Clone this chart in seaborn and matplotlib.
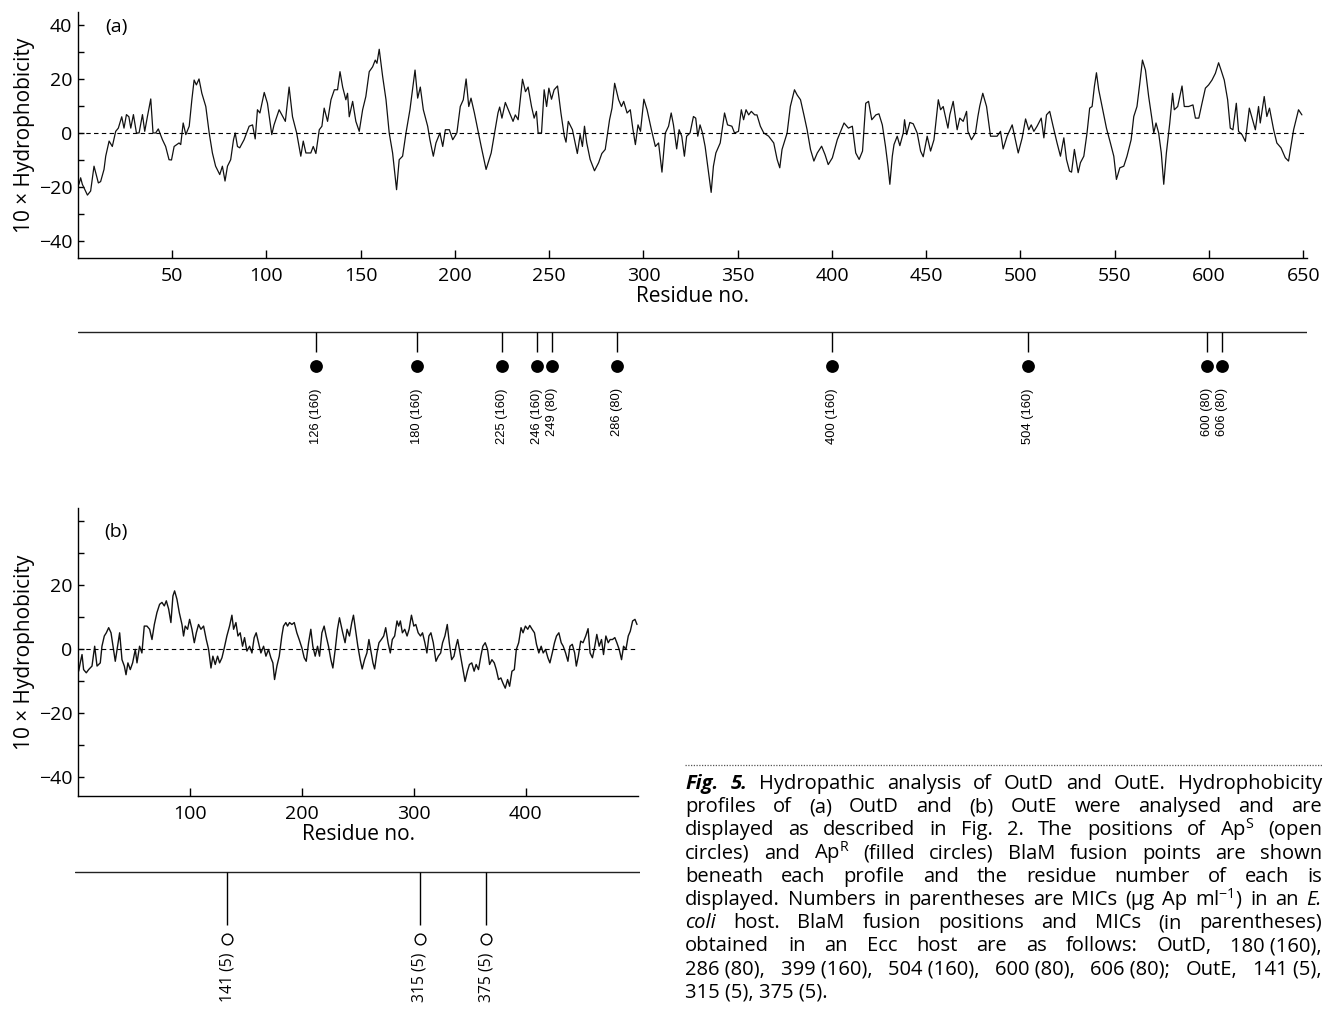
import matplotlib
matplotlib.use("Agg")
import matplotlib.pyplot as plt
from matplotlib.lines import Line2D
import seaborn as sns

# Fig. 5 - hydropathy profiles of OutD (a) and OutE (b)

# (a) OutD: residue no., 10 x hydrophobicity
outd_res = [
    0.5, 1.4, 2.3, 5.0, 6.7, 8.5, 10.8, 12.0, 13.8, 14.7, 16.5, 18.2, 20.0, 21.4, 23.2, 24.4,
    25.7, 27.0, 28.0, 29.4, 31.0, 32.4, 34.2, 35.4, 36.8, 38.6, 39.8, 41.2, 42.6, 44.8, 46.5,
    48.3, 49.6, 51.0, 53.6, 54.5, 55.8, 57.2, 59.0, 60.4, 61.6, 62.8, 64.2, 65.7, 67.8, 69.6,
    71.3, 73.0, 75.2, 76.6, 78.0, 79.3, 81.0, 82.5, 83.4, 84.6, 85.8, 88.1, 90.8, 92.6, 94.0,
    95.2, 96.5, 98.8, 100.5, 102.8, 104.0, 106.7, 110.0, 112.0, 113.8, 116.0, 117.3, 118.2,
    119.5, 120.9, 123.5, 124.8, 126.2, 128.0, 129.4, 130.6, 132.4, 134.2, 136.0, 137.7, 139.0,
    140.4, 142.1, 143.0, 143.9, 145.7, 147.4, 149.2, 151.0, 152.7, 154.5, 156.3, 157.7, 158.6,
    159.8, 161.6, 163.4, 165.1, 166.9, 169.0, 170.4, 172.2, 174.0, 176.1, 178.8, 180.2, 181.6,
    183.2, 185.5, 186.7, 188.5, 189.9, 192.0, 193.5, 194.9, 197.0, 198.8, 201.0, 202.8, 204.4,
    205.9, 207.3, 208.5, 210.3, 212.1, 213.9, 216.5, 219.2, 221.0, 222.8, 223.7, 224.9, 226.7,
    229.0, 230.8, 232.0, 233.5, 235.8, 237.4, 238.8, 240.6, 242.0, 243.2, 244.1, 245.9, 247.3,
    248.6, 249.8, 251.2, 252.6, 254.4, 256.2, 258.0, 258.9, 260.1, 262.3, 264.9, 266.4, 267.6,
    268.7, 269.9, 271.7, 274.0, 276.2, 277.9, 279.7, 282.0, 283.3, 284.7, 286.8, 288.3, 289.5,
    291.3, 293.0, 294.3, 295.7, 297.1, 298.4, 300.2, 301.9, 304.2, 306.3, 308.0, 309.8, 311.6,
    313.3, 314.7, 315.9, 317.6, 318.9, 320.3, 321.7, 322.9, 324.7, 326.5, 327.7, 328.8, 330.0,
    331.3, 332.7, 334.5, 335.9, 337.1, 338.4, 340.7, 343.0, 344.6, 346.9, 348.3, 350.4, 351.9,
    353.1, 354.4, 355.8, 357.2, 359.0, 360.2, 362.0, 363.8, 366.4, 369.1, 370.9, 372.3, 373.5,
    376.2, 377.9, 380.1, 381.5, 383.3, 385.1, 386.8, 388.6, 390.4, 392.2, 394.5, 396.3, 398.0,
    400.2, 402.8, 406.4, 408.7, 410.8, 412.6, 414.4, 416.2, 417.9, 419.4, 421.1, 423.3, 424.9,
    426.7, 428.4, 429.7, 430.7, 432.0, 432.9, 434.6, 436.0, 437.8, 438.5, 439.6, 441.3, 443.1,
    445.2, 447.0, 448.4, 450.5, 452.3, 454.1, 454.9, 456.4, 457.6, 459.0, 461.5, 462.5, 464.3,
    466.4, 467.8, 469.6, 471.4, 472.1, 474.0, 476.1, 477.4, 478.4, 480.0, 482.0, 484.1, 487.6,
    489.4, 490.8, 492.9, 495.6, 498.8, 500.9, 502.7, 504.4, 505.7, 507.1, 508.8, 511.0, 512.4,
    513.8, 515.5, 517.3, 519.4, 521.2, 523.0, 524.4, 526.0, 527.1, 528.6, 530.6, 531.8, 533.6,
    535.3, 536.7, 538.0, 539.2, 540.3, 541.5, 543.3, 545.6, 547.7, 549.5, 550.9, 552.7, 554.8,
    556.5, 558.7, 560.1, 561.8, 563.3, 564.7, 566.3, 568.0, 569.8, 570.7, 571.9, 573.3, 574.7,
    576.0, 577.4, 579.2, 580.7, 581.6, 583.4, 584.5, 585.7, 586.9, 589.2, 591.5, 592.8, 594.6,
    596.3, 598.1, 599.8, 601.6, 603.4, 605.1, 606.4, 608.1, 609.9, 611.3, 612.7, 614.5, 615.7,
    617.5, 619.3, 621.4, 623.1, 624.6, 626.3, 627.2, 629.3, 630.7, 632.1, 634.3, 636.0, 638.2,
    640.5, 642.2, 644.9, 647.5, 649.3,
]
outd_h = [
    -19, -16.6, -19, -23, -21.5, -12.3, -18.5, -18, -13.5, -8.6, -3, -5, 0.6, 1.8, 6, 1.8,
    6.8, 6, 1.8, 6.8, 0, 0, 6.8, 0.6, 6, 12.6, 0, 0, 1.5, -2.5, -5,
    -9.9, -10, -5, -3.7, -4.3, 3.7, -0.6, 2.5, 12.3, 19.6, 17.8, 20, 14.7, 9.8, 0,
    -7.4, -12.3, -15.4, -12.3, -17.8, -12.3, -9.9, -2.5, 0, -5, -5.5, -2.5, 2.5, 3, -2.2,
    8.6, 7.4, 15, 11, -0.6, 3, 8.6, 4.3, 17, 6, 0, -5, -8.6,
    -3, -7.4, -7.4, -5, -7.6, 1.2, 2.5, 9.2, 4.3, 12.3, 16, 16, 22.7,
    17, 12.3, 14.7, 6, 11.7, 4.3, 0.6, 8.6, 13.5, 22.7, 24.5, 27, 25.8,
    31, 21, 12.3, 0, -7.4, -21, -9.9, -8.6, 0, 8.6, 23.3, 12.9, 17,
    8.6, 2.5, -2.5, -8.6, -3.7, 0, -5, 1.2, 1.2, -2.5, 0, 9.8, 12.3,
    20, 9.8, 12.9, 7.4, 1.2, -5, -13.5, -7.4, 0, 7.4, 9.6, 5.5, 11.3,
    7.4, 4.3, 6.7, 4.9, 19.9, 15.3, 17, 9.8, 5.5, 8, 0, 0, 16,
    9.8, 16.6, 12.5, 16, 17.4, 7.4, -1.2, -3.4, 4.3, 1.2, -7.6, -0.6, -5,
    2.5, -3.7, -9.8, -14, -11, -7.6, -6.1, 4.9, 9.2, 18.4, 12.3, 9.8, 11.7,
    7.4, 8.6, 1.8, -4.3, 3, 0.6, 12.5, 8.6, 1.2, -5, -3.7, -14.5, 0,
    2.5, 7.4, 3, -5.9, 1.2, -1.2, -8.6, -1.2, 0, 6.1, 5.5, -1.2, 3,
    0, -5, -14.7, -22, -12.3, -7.4, -3.7, 7.4, 3, 2.5, 0, 0.6, 8.6,
    4.9, 8.6, 6.7, 8, 6.7, 6.7, 2.5, 0, -1.2, -3.7, -9.8, -12.9, -6.1,
    0, 9.8, 16, 14.1, 12.3, 6.7, 1.2, -6.1, -10.4, -7.4, -4.9, -8, -11.7,
    -9.2, -2.5, 3.7, 1.8, 2.5, -7.4, -9.8, -6.7, 11, 11.7, 4.9, 6.7, 7.1,
    3, -5, -12.3, -19, -8.6, -4.3, -1.2, -4.7, 0, 4.9, -0.6, 3.9, 3.4,
    0, -6.7, -8.8, -1.2, -6.7, -2.5, 2.5, 12.3, 8.6, 9.8, 1.8, 6.7, 11.7,
    1.2, 5.5, 4.3, 8, 0.6, -2.5, 0, 6.1, 10, 14.7, 9.8, -1.2, -1.2,
    0.6, -5.9, -1.2, 3, -7.4, -1.8, 5.2, 1.2, 3, 0.6, 2.5, 5.5, -1.8,
    6.7, 8, 2.5, -3.7, -8.6, -1.8, -9.8, -14.1, -14.5, -6.1, -14.7, -11, -8.6,
    0, 9.2, 9.8, 17.2, 22.3, 16, 9.8, 1.8, -3.7, -8.6, -17.2, -12.9, -12.3,
    -8.6, -2.5, 6.1, 9.8, 18.4, 27, 23.3, 13.5, 4.9, 0, 3.7, 0, -7.4,
    -19, -7.4, 3.7, 14.7, 8.6, 9.8, 13.5, 17.4, 9.8, 9.8, 10.4, 5.5, 5.5,
    11, 16.6, 17.8, 19.6, 22.1, 26, 23.3, 19.6, 12.3, 1.8, 1.2, 11, 0.6,
    -0.6, -3.1, 9.2, 4.9, 1.2, 9.8, 3.7, 13.5, 6.1, 9.2, 1.2, -3.7, -5.5,
    -9.2, -10.4, 1.2, 8.6, 6.7,
]

# (b) OutE
oute_res = [
    0.6, 2.0, 3.6, 5.0, 7.4, 9.5, 12.5, 14.9, 17.0, 19.9, 21.4, 23.5, 25.3, 27.4, 29.5, 31.3,
    33.3, 35.4, 37.2, 39.3, 41.4, 42.9, 44.6, 46.7, 48.8, 51.2, 52.7, 55.0, 57.1, 59.2, 61.6,
    64.0, 66.1, 68.2, 70.5, 72.9, 75.0, 77.1, 78.9, 81.0, 83.0, 84.8, 86.3, 88.4, 90.5, 92.9,
    94.3, 95.8, 97.9, 99.7, 101.8, 103.9, 105.7, 107.7, 109.8, 112.2, 114.6, 116.7, 118.8,
    120.5, 122.6, 124.7, 126.5, 128.6, 130.7, 133.0, 135.4, 137.5, 139.0, 141.1, 142.9, 144.9,
    147.0, 148.8, 150.9, 153.3, 155.4, 157.4, 159.2, 161.3, 163.4, 165.8, 167.9, 170.2, 172.3,
    174.1, 175.6, 177.7, 179.8, 182.1, 183.6, 185.7, 187.2, 189.0, 191.1, 193.2, 195.5, 197.6,
    200.0, 202.1, 203.9, 206.0, 208.0, 209.8, 211.9, 214.0, 215.8, 217.9, 219.9, 221.7, 223.8,
    225.9, 227.7, 229.8, 231.8, 233.6, 236.5, 238.6, 240.4, 242.5, 244.6, 246.1, 247.9, 250.0,
    252.1, 253.9, 256.0, 258.1, 259.9, 262.0, 263.5, 265.0, 267.1, 268.9, 271.0, 273.1, 274.9,
    277.0, 279.0, 280.8, 282.9, 285.0, 286.5, 288.0, 289.8, 291.9, 294.0, 295.8, 297.9, 300.0,
    301.8, 303.9, 306.0, 307.8, 309.9, 311.7, 313.5, 315.3, 317.4, 319.8, 321.9, 324.0, 325.7,
    327.8, 329.9, 331.7, 333.8, 335.9, 337.7, 339.2, 341.3, 343.4, 345.8, 347.9, 349.7, 351.8,
    353.9, 355.7, 357.8, 359.9, 361.7, 363.8, 365.9, 367.7, 369.8, 371.9, 373.7, 375.7, 377.8,
    379.6, 381.7, 383.8, 385.6, 387.7, 389.8, 391.6, 393.7, 395.8, 397.6, 399.7, 401.8, 403.6,
    405.7, 407.8, 409.6, 411.7, 413.8, 415.6, 417.7, 419.8, 421.6, 423.7, 425.7, 427.5, 429.6,
    431.7, 433.5, 435.6, 437.7, 439.5, 441.6, 443.7, 445.2, 447.0, 449.1, 451.2, 453.6, 455.7,
    457.5, 459.6, 461.7, 463.5, 465.6, 467.7, 469.5, 471.6, 473.7, 475.4, 477.5, 479.6, 481.4,
    483.5, 485.6, 487.4, 489.5, 491.6, 493.4, 495.5, 497.6, 499.4,
]
oute_h = [
    -7, -4.4, -1.8, -6.5, -7.5, -6.5, -5.4, 0.8, -5.4, -4.4, 0.8, 4, 5, 6.6, 5, 0.8,
    -3.9, 0.8, 5, -3.4, -5.4, -8.1, -4.4, -6.5, -4.4, -0.2, -4.4, 0.8, -1.3, 7.1, 7.1,
    6.1, 2.9, 7.6, 11.3, 13.9, 14.5, 13.4, 15, 12.4, 8.2, 16.5, 18.1, 15.5, 11.3, 7.6,
    4, 7.1, 6.1, 9.2, 6.1, 1.9, 5, 7.6, 6.1, 7.1, 2.9, -0.2, -6,
    -2.3, -4.9, -2.3, -4.4, -2.8, 0.3, 4, 7.1, 10.5, 6.1, 8.2, 4, 5,
    0.8, 3.5, -0.7, 0.8, -1.3, 3.5, 5, 1.9, -1.3, 0.8, -2.3, -0.2, -2.8,
    -4.4, -9.6, -5.4, -2.3, 4, 7.1, 8.2, 7.1, 8.2, 7.6, 8.2, 5, 2.9,
    0.3, -2.8, -3.9, 1.9, 6.1, 0.8, -2.3, 0.8, -2.3, 5, 7.1, 4, 0.8,
    -3.4, -6, -0.2, 6.1, 9.7, 5, 1.9, 6.1, 4, 8.2, 10.5, 6.1, 0.8,
    -3.4, -6.3, -3.4, -1.3, 2.9, -1.3, -4.4, -6.3, -1.3, 1.9, 2.9, 4, 6.6,
    1.9, -1.3, 2.9, 4, 8.7, 7.1, 8.7, 5, 6.1, 4, 6.1, 10.5, 7.1,
    7.6, 5, 4, 5, 1.9, -1.3, 4, 5, 1.9, -3.9, -2.3, -1.3, 1.9,
    4, 7.6, 1.9, -3.4, -2.3, 0.8, 2.9, -1.3, -5.4, -10.2, -7, -4.9, -4.4,
    -7, -4.9, -6.5, -2.3, 0.8, 1.9, -0.2, -4.9, -3.4, -4.4, -6.5, -9.6, -9.1,
    -10.7, -12.3, -9.6, -11.7, -7, -6.5, -0.2, 1.9, 6.6, 5, 7.1, 6.1, 7.3,
    6.1, 5, 1.4, -1.3, 0.8, -1.3, -0.2, -2.8, -4.4, -1.3, 1.9, 4, 5,
    1.9, 0.8, -1.3, -3.9, 0.8, 1.4, -1.3, -5.4, -2.3, 2.4, 1.9, 4, 6.3,
    -1.3, -2.8, 0.8, 4.5, 0.8, 2.9, -1.8, 4, 1.9, 2.9, 2.9, 3.5, 1.9,
    -0.2, -3.4, 0.8, -0.2, 4, 5.5, 8.7, 9.2, 7.6,
]

# BlaM fusion points and MICs (ug Ap/ml)
outd_fusions = [126, 180, 225, 246, 249, 286, 400, 504, 600, 606]
outd_mics = [160, 160, 160, 160, 80, 80, 160, 160, 80, 80]
oute_fusions = [141, 315, 375]
oute_mics = [5, 5, 5]

y_ticks = [-40, -30, -20, -10, 0, 10, 20, 30, 40]
a_ylabels = ["\u221240", "", "\u221220", "", "0", "", "20", "", "40"]
b_ylabels = ["\u221240", "", "\u221220", "", "0", "", "20", "", ""]
a_xticks = [50, 100, 150, 200, 250, 300, 350, 400, 450, 500, 550, 600, 650]
b_xticks = [100, 200, 300, 400]

caption_lines = [
    "*Fig.* *5.* Hydropathic analysis of OutD and OutE. Hydrophobicity",
    "profiles of (a) OutD and (b) OutE were analysed and are",
    "displayed as described in Fig. 2. The positions of Ap$^{S}$ (open",
    "circles) and Ap$^{R}$ (filled circles) BlaM fusion points are shown",
    "beneath each profile and the residue number of each is",
    "displayed. Numbers in parentheses are MICs (\u00b5g Ap ml$^{-1}$) in an _E._",
    "_coli_ host. BlaM fusion positions and MICs (in parentheses)",
    "obtained in an Ecc host are as follows: OutD, 180~(160),",
    "286~(80), 399~(160), 504~(160), 600~(80), 606~(80); OutE, 141~(5),",
    "315~(5), 375~(5).",
]

W, H = 1331, 1009
FONT = ["Open Sans", "DejaVu Sans"]

sns.set_theme(style="ticks")
plt.rcParams["font.family"] = FONT
plt.rcParams["mathtext.fontset"] = "custom"
plt.rcParams["mathtext.default"] = "regular"
plt.rcParams["axes.linewidth"] = 1.0
plt.rcParams["axes.edgecolor"] = "black"
plt.rcParams["xtick.color"] = "black"
plt.rcParams["ytick.color"] = "black"
plt.rcParams["axes.labelcolor"] = "black"
plt.rcParams["text.color"] = "black"

fig = plt.figure(figsize=(W / 100, H / 100), dpi=100)
fig.patch.set_facecolor("white")


def px_axes(x0, y0, x1, y1):
    # axes placed by pixel box (top-left origin)
    return fig.add_axes([x0 / W, 1 - y1 / H, (x1 - x0) / W, (y1 - y0) / H])


def profile(ax, res, vals, xlim, ylim, xticks, ylabels, tag, tag_xy, lw):
    sns.lineplot(x=res, y=vals, ax=ax, color="#111111", linewidth=lw,
                 estimator=None, sort=False)
    ax.axhline(0, color="black", linewidth=0.8, dashes=(4, 3))
    ax.set_xlim(*xlim)
    ax.set_ylim(*ylim)
    ax.set_xticks(xticks)
    ax.set_yticks(y_ticks)
    ax.set_yticklabels(ylabels)
    sns.despine(ax=ax)
    ax.tick_params(direction="in", width=1, labelsize=14)
    ax.tick_params(axis="x", length=6, pad=6.5)
    ax.tick_params(axis="y", length=4, pad=4)
    ax.set_xlabel("Residue no.", fontsize=15, labelpad=1)
    ax.set_ylabel("10 \u00d7 Hydrophobicity", fontsize=15, labelpad=3)
    ax.text(*tag_xy, tag, transform=ax.transAxes, fontsize=14, ha="center", va="center")
    ax.set_facecolor("white")


def spread(pos, min_gap):
    # push apart fusion points that would overlap on the track
    out = [float(p) for p in pos]
    for i in range(1, len(out)):
        d = out[i] - out[i - 1]
        if d < min_gap:
            out[i - 1] -= (min_gap - d) / 2
            out[i] += (min_gap - d) / 2
    return out


def fusion_track(ax, xlim, fusions, mics, y_line, y_stem, y_dot, y_lab,
                 filled, size, lab_font, lab_size, min_gap):
    ax.set_xlim(*xlim)
    ax.set_ylim(0, 1)
    ax.axis("off")
    ax.axhline(y_line, color="#222222", linewidth=1.0)
    xs = spread(fusions, min_gap)
    ax.vlines(xs, y_stem, y_line, color="black", linewidth=1.0)
    if filled:
        sns.scatterplot(x=xs, y=[y_dot] * len(xs), ax=ax, color="black", s=size,
                        linewidth=0, legend=False, clip_on=False)
    else:
        sns.scatterplot(x=xs, y=[y_dot] * len(xs), ax=ax, color="white", s=size,
                        edgecolor="black", linewidth=1.0, legend=False, clip_on=False)
    for x, r, m in zip(xs, fusions, mics):
        ax.text(x, y_lab, f"{r} ({m})", rotation=90, ha="center", va="top",
                fontsize=lab_size, family=lab_font)


def caption_words(line, y, size):
    arts = []
    for tok in line.split(" "):
        kw = {}
        if tok.startswith("*"):
            tok = tok.strip("*")
            kw = dict(fontweight="bold", fontstyle="italic")
        elif tok.startswith("_"):
            tok = tok.strip("_")
            kw = dict(fontstyle="italic")
        arts.append(fig.text(0, y, tok.replace("~", " "), fontsize=size,
                             ha="left", va="baseline", **kw))
    return arts


def fit_size(lines, span, start, min_gap_em):
    # biggest font size for which every justified line still fits the column
    renderer = fig.canvas.get_renderer()
    size = start
    while size > 8:
        ok = True
        for line in lines[:-1]:
            arts = caption_words(line, 0, size)
            need = sum(a.get_window_extent(renderer).width for a in arts)
            need += (len(arts) - 1) * min_gap_em * size * 100 / 72
            for a in arts:
                a.remove()
            if need > span:
                ok = False
                break
        if ok:
            return size
        size -= 0.25
    return size


def caption(lines, x0, x1, base0, step, size):
    renderer = fig.canvas.get_renderer()
    span = x1 - x0
    for k, line in enumerate(lines):
        y = 1 - (base0 + k * step) / H
        arts = caption_words(line, y, size)
        widths = [a.get_window_extent(renderer).width for a in arts]
        if k == len(lines) - 1:
            gap = size * 100 / 72 * 0.27
        else:
            gap = (span - sum(widths)) / (len(arts) - 1)
        x = x0
        for a, w in zip(arts, widths):
            a.set_x(x / W)
            x += w + gap


ax_a = px_axes(78, 12, 1307, 258)
profile(ax_a, outd_res, outd_h, (0, 652), (-46.3, 44.8), a_xticks, a_ylabels,
        "(a)", (0.031, 0.939), 0.9)

ax_b = px_axes(78, 508, 638, 796)
profile(ax_b, oute_res, oute_h, (0, 500.3), (-46, 44), b_xticks, b_ylabels,
        "(b)", (0.068, 0.917), 1.0)

trk_a = px_axes(78, 325, 1307, 455)
fusion_track(trk_a, (0, 652), outd_fusions, outd_mics, 0.946, 0.792, 0.685, 0.515,
             True, 85, ["Liberation Sans", "DejaVu Sans"], 9.3, 8)

trk_b = px_axes(75, 865, 640, 1009)
fusion_track(trk_b, (3.6, 514), oute_fusions, oute_mics, 0.951, 0.583, 0.486, 0.389,
             False, 60, FONT, 11.3, 8)

fig.add_artist(Line2D([685 / W, 1322 / W], [1 - 765 / H] * 2, color="#555555",
                      linewidth=0.9, linestyle=(0, (1, 1.2))))
cap_size = fit_size(caption_lines, 1322 - 685, 14.5, 0.22)
caption(caption_lines, 685, 1322, 789, 23.2, cap_size)

fig.savefig("out.png", dpi=100, facecolor="white")
